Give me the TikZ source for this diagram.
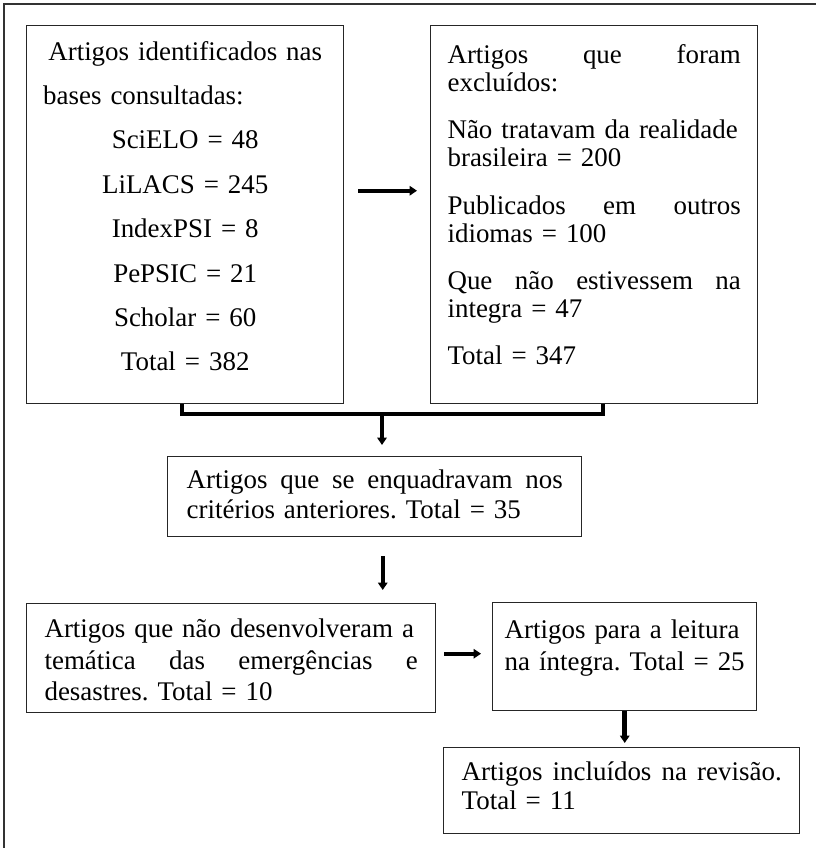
\documentclass[tikz,border=0pt]{standalone}
\usepackage{fontspec}
\setmainfont{Liberation Serif}
\usepackage{tikz}
\usetikzlibrary{calc,arrows.meta}

\frenchspacing
\newcommand{\fundo}[1]{\rule[-#1]{0pt}{#1}}
\newcommand{\just}[1]{\leavevmode\hbox to\hsize{#1}}

\begin{document}
\begin{tikzpicture}[x=0.75pt,y=-0.75pt,
			caixa/.style={draw=black!85,line width=1.1pt,anchor=north west,inner sep=0pt,
				font=\fontsize{20.2}{21}\selectfont},
			seta/.style={line width=3pt,-{Triangle[length=5.5pt,width=7pt]}},
			colchete/.style={line width=3pt},
			moldura/.style={line width=1.5pt,draw=black!80}]
			\useasboundingbox (0,0) rectangle (816,848);
			\coordinate (A) at (26,25);
			\coordinate (B) at (430,25);
			\coordinate (C) at (167,456);
			\coordinate (D) at (26,603);
			\coordinate (E) at (492,602);
			\coordinate (F) at (443,747);
			\coordinate (J) at (382,413);

			\draw[moldura] (4,848) |- (816,4);

			\node[caixa,minimum width=237.75pt,minimum height=283.5pt,text width=213pt,align=center] (ident) at (A)
				{Artigos identificados nas\\[12.3pt]
				bases consultadas:\hfill\mbox{}\\[12.3pt]
				SciELO = 48\\[12.3pt]
				LiLACS = 245\\[12.3pt]
				IndexPSI = 8\\[12.3pt]
				PePSIC = 21\\[12.3pt]
				Scholar = 60\\[12.3pt]
				Total = 382\fundo{13.2pt}};
			\node[caixa,minimum width=245.25pt,minimum height=283.5pt,text width=220pt,align=left] (excl) at (B)
				{\just{Artigos\hfil que\hfil foram}\\
				excluídos:\\[14.6pt]
				\just{Não tratavam da realidade}\\
				brasileira = 200\\[14.6pt]
				\just{Publicados\hfil em\hfil outros}\\
				idiomas = 100\\[14.6pt]
				\just{Que\hfil não\hfil estivessem\hfil na}\\
				integra = 47\\[14.6pt]
				Total = 347\fundo{15.3pt}};
			\node[caixa,minimum width=310.5pt,minimum height=60pt,text width=282pt,align=left] (crit) at (C)
				{\just{Artigos\hfil que\hfil se\hfil enquadravam\hfil nos}\\[1.5pt]
				critérios anteriores. Total = 35\fundo{3.3pt}};
			\node[caixa,minimum width=306.75pt,minimum height=81.75pt,text width=280pt,align=left] (nodev) at (D)
				{\just{\rule{0pt}{16.8pt}Artigos que não desenvolveram a}\\[2.5pt]
				\just{temática\hfil das\hfil emergências\hfil e}\\[2.5pt]
				desastres. Total = 10};
			\node[caixa,minimum width=198pt,minimum height=81pt,text width=180pt,align=left] (leit) at (E)
				{\just{Artigos para a leitura}\\[3pt]
				\just{na íntegra. Total = 25}\fundo{16.8pt}};
			\node[caixa,minimum width=267pt,minimum height=64.5pt,text width=240pt,align=left] (incl) at (F)
				{\just{Artigos\hfil incluídos\hfil na\hfil revisão.}\\[0.75pt]
				Total = 11\fundo{7pt}};

			% setas
			\draw[seta,shorten <=10.5pt,shorten >=9.75pt] ([yshift=18pt]ident.east) -- ([yshift=18pt]excl.west);
			\draw[colchete] ([xshift=-2.6pt]ident.south) -- ++(0,10) -| ([xshift=6.4pt]excl.south);
			\draw[seta,shorten >=8.25pt] (J) -- (J |- crit.north);
			\draw[seta,shorten <=14.25pt,shorten >=9.75pt] ([xshift=6pt]crit.south) -- ([xshift=6pt]crit.south |- nodev.north);
			\draw[seta,shorten <=6pt,shorten >=8.25pt] ([yshift=3.4pt]nodev.east) -- ([yshift=3.4pt]nodev.east -| leit.west);
			\draw[seta,line width=4pt,shorten >=3pt] (leit.south) -- (leit.south |- incl.north);
\end{tikzpicture}
\end{document}
